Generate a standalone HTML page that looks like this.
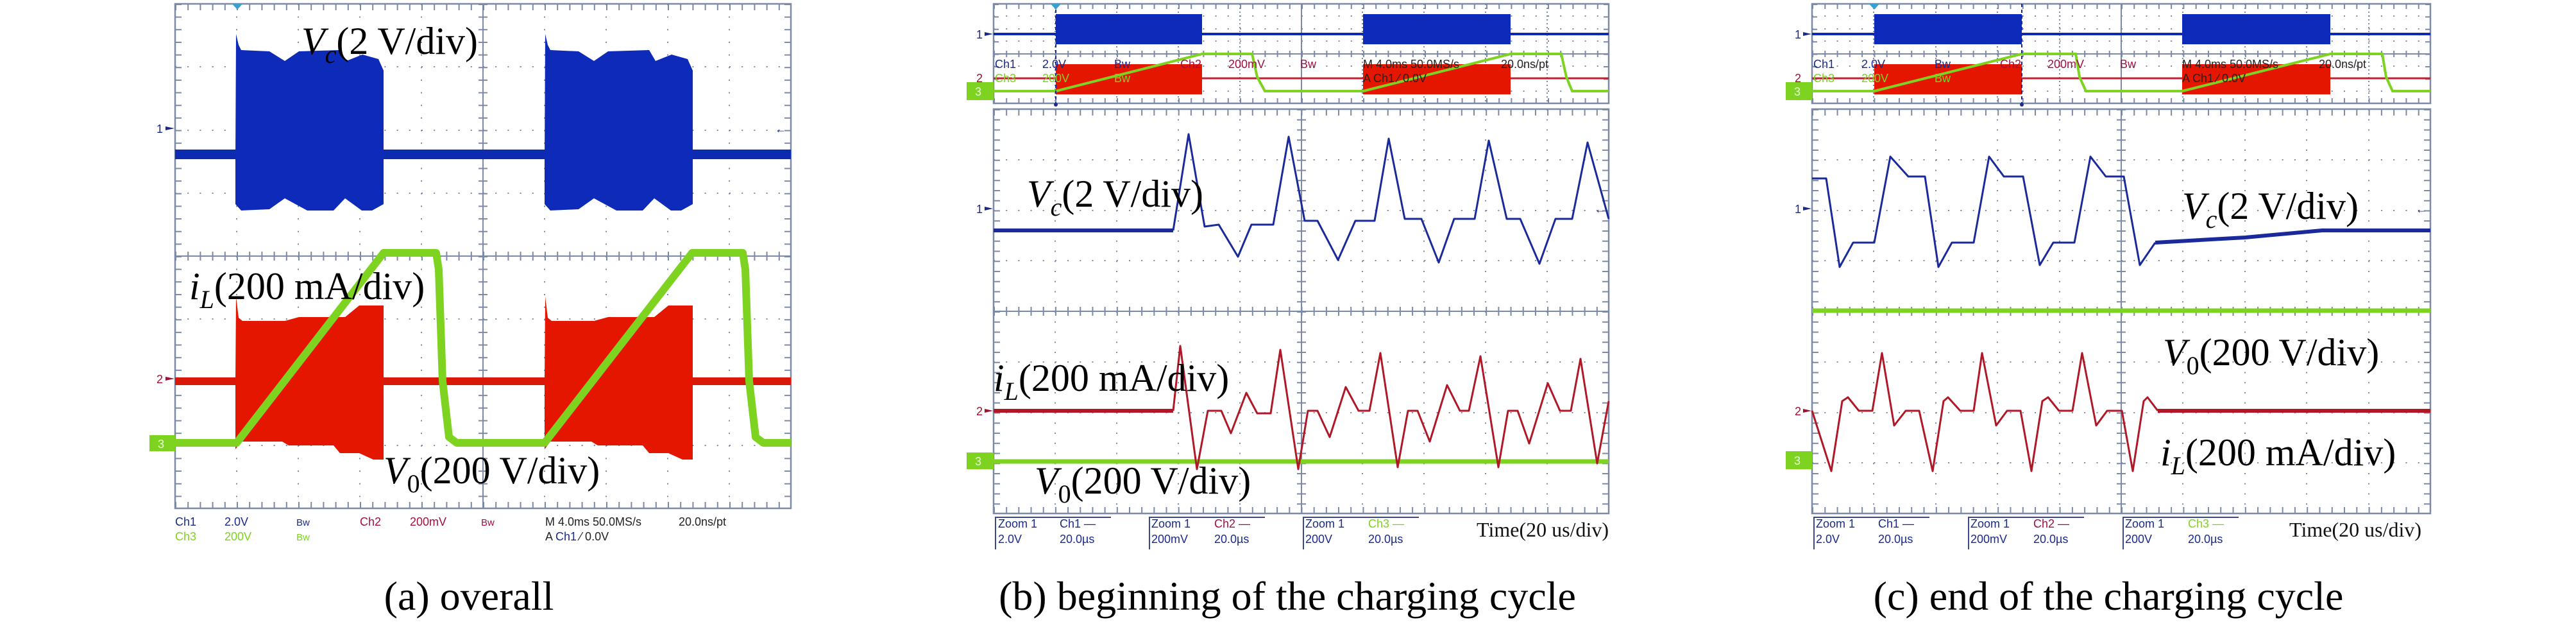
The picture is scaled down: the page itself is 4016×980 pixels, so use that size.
<!DOCTYPE html>
<html><head><meta charset="utf-8"><style>
html,body{margin:0;padding:0;background:#fff;}
svg{display:block;}
.sc{font-family:"Liberation Sans",sans-serif;font-size:18px;}
.lb{font-family:"Liberation Serif",serif;font-size:60px;fill:#000;}
.cap{font-family:"Liberation Serif",serif;font-size:64px;fill:#000;}
</style></head><body>
<svg width="4016" height="980" viewBox="0 0 4016 980" xmlns="http://www.w3.org/2000/svg">
<rect width="4016" height="980" fill="#fff"/>

<!-- ================= PANEL A ================= -->
<g stroke="#7d8aa6" fill="none">
  <g stroke-width="2" stroke-dasharray="2 17.65">
    <line x1="369" y1="6" x2="369" y2="792"/><line x1="465" y1="6" x2="465" y2="792"/>
    <line x1="561" y1="6" x2="561" y2="792"/><line x1="657" y1="6" x2="657" y2="792"/>
    <line x1="849" y1="6" x2="849" y2="792"/><line x1="945" y1="6" x2="945" y2="792"/>
    <line x1="1041" y1="6" x2="1041" y2="792"/><line x1="1137" y1="6" x2="1137" y2="792"/>
  </g>
  <g stroke-width="2" stroke-dasharray="2 17.2">
    <line x1="273" y1="104" x2="1233" y2="104"/><line x1="273" y1="203" x2="1233" y2="203"/>
    <line x1="273" y1="301" x2="1233" y2="301"/><line x1="273" y1="497" x2="1233" y2="497"/>
    <line x1="273" y1="596" x2="1233" y2="596"/><line x1="273" y1="694" x2="1233" y2="694"/>
  </g>
  <line x1="753" y1="6" x2="753" y2="792" stroke-width="2"/>
  <line x1="273" y1="399" x2="1233" y2="399" stroke-width="2"/>
  <line x1="753" y1="6" x2="753" y2="792" stroke-width="14" stroke-dasharray="2 17.65"/>
  <line x1="273" y1="399" x2="1233" y2="399" stroke-width="14" stroke-dasharray="2 17.2"/>
  <line x1="278" y1="6" x2="278" y2="792" stroke-width="10" stroke-dasharray="2 17.65"/>
  <line x1="1228" y1="6" x2="1228" y2="792" stroke-width="10" stroke-dasharray="2 17.65"/>
  <line x1="273" y1="11" x2="1233" y2="11" stroke-width="10" stroke-dasharray="2 17.2"/>
  <line x1="273" y1="787" x2="1233" y2="787" stroke-width="10" stroke-dasharray="2 17.2"/>
  <rect x="273" y="6" width="960" height="786" stroke-width="2.5"/>
</g>
<!-- blue -->
<rect x="273" y="233" width="960" height="15" fill="#0d2bb0"/>
<g fill="#0d2bb8">
<polygon points="367,250 368,53 372,70 376,78 420,80 444,95 466,80 530,78 540,95 565,85 590,92 598,110 598,250 598,318 580,328 564,328 538,309 520,328 479,328 444,309 420,326 376,328 367,318"/>
<polygon points="849,250 850,53 854,70 858,78 902,80 926,95 948,80 1012,78 1022,95 1047,85 1072,92 1080,110 1080,250 1080,318 1062,328 1046,328 1020,309 1002,328 961,328 926,309 902,326 858,328 849,318"/>
</g>
<!-- red -->
<rect x="273" y="588" width="960" height="12" fill="#d81808"/>
<g fill="#e41600">
<polygon points="367,595 368,462 372,495 378,500 444,500 466,494 538,494 560,476 598,476 598,716 582,716 560,706 530,706 520,694 450,694 440,688 376,688 367,700"/>
<polygon points="849,595 850,462 854,495 860,500 926,500 948,494 1020,494 1042,476 1080,476 1080,716 1064,716 1042,706 1012,706 1002,694 932,694 922,688 858,688 849,700"/>
</g>
<polyline points="273,690 369,690 598,394 680,394 684,420 690,594 700,681 712,690 849,690 1079,394 1158,394 1162,420 1168,594 1178,681 1190,690 1233,690" fill="none" stroke="#7ed321" stroke-width="12" stroke-linejoin="round"/>
<rect x="233" y="678" width="40" height="25" fill="#7ed321"/>
<text x="246" y="698" class="sc" fill="#e8ffd8">3</text>
<text x="244" y="207" class="sc" fill="#1a2a8a">1</text><polygon points="258,197 272,200 258,203" fill="#1a2a8a"/>
<text x="244" y="597" class="sc" fill="#a01030">2</text><polygon points="258,587 272,590 258,593" fill="#a01030"/>
<text x="1208" y="207" class="sc" fill="#1a2a8a" font-size="24">←</text>
<polygon points="362,6 378,6 370,15" fill="#3aa0d0"/>
<text class="lb" x="470" y="84"><tspan font-style="italic">V</tspan><tspan font-style="italic" font-size="40" dy="14">c</tspan><tspan dy="-14">(2 V/div)</tspan></text>
<text class="lb" x="295" y="466"><tspan font-style="italic">i</tspan><tspan font-style="italic" font-size="40" dy="14">L</tspan><tspan dy="-14">(200 mA/div)</tspan></text>
<text class="lb" x="598" y="753"><tspan font-style="italic">V</tspan><tspan font-size="40" dy="14">0</tspan><tspan dy="-14">(200 V/div)</tspan></text>
<g class="sc">
<text x="273" y="819" fill="#1a2a8a">Ch1</text><text x="350" y="819" fill="#1a2a8a">2.0V</text><text x="462" y="819" fill="#1a2a8a" font-size="15">Bw</text>
<text x="561" y="819" fill="#a01040">Ch2</text><text x="639" y="819" fill="#a01040">200mV</text><text x="750" y="819" fill="#a01040" font-size="15">Bw</text>
<text x="850" y="819" fill="#222">M 4.0ms 50.0MS/s</text><text x="1058" y="819" fill="#222">20.0ns/pt</text>
<text x="273" y="842" fill="#7ed321">Ch3</text><text x="350" y="842" fill="#7ed321">200V</text><text x="462" y="842" fill="#7ed321" font-size="15">Bw</text>
<text x="850" y="842" fill="#222">A <tspan fill="#1a2a8a">Ch1</tspan> ⁄ 0.0V</text>
</g>
<text class="cap" x="731" y="950" text-anchor="middle">(a) overall</text>

<!-- ================= PANEL B ================= -->
<!-- mini -->
<g stroke="#7d8aa6" fill="none">
  <g stroke-width="2" stroke-dasharray="2 4">
    <line x1="1645" y1="6" x2="1645" y2="161"/><line x1="1741" y1="6" x2="1741" y2="161"/><line x1="1837" y1="6" x2="1837" y2="161"/><line x1="1933" y1="6" x2="1933" y2="161"/>
    <line x1="2124" y1="6" x2="2124" y2="161"/><line x1="2220" y1="6" x2="2220" y2="161"/><line x1="2316" y1="6" x2="2316" y2="161"/><line x1="2412" y1="6" x2="2412" y2="161"/>
  </g>
  <g stroke-width="2" stroke-dasharray="2 17.2">
    <line x1="1549" y1="25" x2="2508" y2="25"/><line x1="1549" y1="45" x2="2508" y2="45"/><line x1="1549" y1="64" x2="2508" y2="64"/>
    <line x1="1549" y1="103" x2="2508" y2="103"/><line x1="1549" y1="122" x2="2508" y2="122"/><line x1="1549" y1="142" x2="2508" y2="142"/>
  </g>
  <line x1="2029" y1="6" x2="2029" y2="161" stroke-width="2"/>
  <line x1="1549" y1="84" x2="2508" y2="84" stroke-width="2"/>
  <line x1="1549" y1="84" x2="2508" y2="84" stroke-width="10" stroke-dasharray="2 17.2"/>
  <line x1="1553" y1="6" x2="1553" y2="161" stroke-width="8" stroke-dasharray="2 17.4"/>
  <line x1="2504" y1="6" x2="2504" y2="161" stroke-width="8" stroke-dasharray="2 17.4"/>
  <line x1="1549" y1="10" x2="2508" y2="10" stroke-width="8" stroke-dasharray="2 17.2"/>
  <line x1="1549" y1="157" x2="2508" y2="157" stroke-width="8" stroke-dasharray="2 17.2"/>
  <rect x="1549" y="6" width="959" height="155" stroke-width="2.5"/>
</g>
<line x1="1549" y1="53" x2="2508" y2="53" stroke="#0d2bb0" stroke-width="4"/>
<rect x="1646" y="22" width="228" height="47" fill="#0d2bb8"/><rect x="2125" y="22" width="230" height="47" fill="#0d2bb8"/>
<line x1="1549" y1="122" x2="2508" y2="122" stroke="#c02030" stroke-width="3"/>
<rect x="1646" y="100" width="228" height="47" fill="#e41600"/><rect x="2125" y="100" width="230" height="47" fill="#e41600"/>
<polyline points="1549,142 1646,142 1874,84 1952,84 1960,120 1972,142 2125,142 2355,84 2434,84 2442,120 2451,142 2508,142" fill="none" stroke="#7ed321" stroke-width="4"/>
<line x1="1646" y1="6" x2="1646" y2="165" stroke="#1a2a9a" stroke-width="2" stroke-dasharray="5 4"/>
<polygon points="1638,6 1654,6 1646,15" fill="#3aa0d0"/><circle cx="1646" cy="163" r="3" fill="#1a2a9a"/>
<g class="sc" font-size="17">
<text x="1551" y="106" fill="#1a2a8a">Ch1</text><text x="1625" y="106" fill="#1a2a8a">2.0V</text><text x="1737" y="106" fill="#1a2a8a">Bw</text>
<text x="1840" y="106" fill="#a01040">Ch2</text><text x="1915" y="106" fill="#a01040">200mV</text><text x="2027" y="106" fill="#a01040">Bw</text>
<text x="2125" y="106" fill="#222">M 4.0ms 50.0MS/s</text><text x="2340" y="106" fill="#222">20.0ns/pt</text>
<text x="1551" y="128" fill="#7ed321">Ch3</text><text x="1625" y="128" fill="#7ed321">200V</text><text x="1737" y="128" fill="#7ed321">Bw</text>
<text x="2125" y="128" fill="#222">A Ch1 ⁄ 0.0V</text>
</g>
<rect x="1507" y="128" width="42" height="28" fill="#7ed321"/><text x="1520" y="149" class="sc" fill="#e8ffd8">3</text>
<text x="1522" y="60" class="sc" fill="#1a2a8a">1</text><polygon points="1535,50 1548,53 1535,56" fill="#1a2a8a"/>
<text x="1522" y="128" class="sc" fill="#a01030">2</text>
<text x="2486" y="56" class="sc" fill="#1a2a8a" font-size="22">←</text>
<!-- main -->
<g stroke="#7d8aa6" fill="none">
  <g stroke-width="2" stroke-dasharray="2 13.75">
    <line x1="1645" y1="170" x2="1645" y2="800"/><line x1="1741" y1="170" x2="1741" y2="800"/><line x1="1837" y1="170" x2="1837" y2="800"/><line x1="1933" y1="170" x2="1933" y2="800"/>
    <line x1="2124" y1="170" x2="2124" y2="800"/><line x1="2220" y1="170" x2="2220" y2="800"/><line x1="2316" y1="170" x2="2316" y2="800"/><line x1="2412" y1="170" x2="2412" y2="800"/>
  </g>
  <g stroke-width="2" stroke-dasharray="2 17.18">
    <line x1="1549" y1="249" x2="2508" y2="249"/><line x1="1549" y1="328" x2="2508" y2="328"/><line x1="1549" y1="406" x2="2508" y2="406"/>
    <line x1="1549" y1="564" x2="2508" y2="564"/><line x1="1549" y1="643" x2="2508" y2="643"/><line x1="1549" y1="721" x2="2508" y2="721"/>
  </g>
  <line x1="2029" y1="170" x2="2029" y2="800" stroke-width="2"/>
  <line x1="1549" y1="485" x2="2508" y2="485" stroke-width="2"/>
  <line x1="2029" y1="170" x2="2029" y2="800" stroke-width="14" stroke-dasharray="2 13.75"/>
  <line x1="1549" y1="485" x2="2508" y2="485" stroke-width="14" stroke-dasharray="2 17.18"/>
  <line x1="1554" y1="170" x2="1554" y2="800" stroke-width="10" stroke-dasharray="2 13.75"/>
  <line x1="2503" y1="170" x2="2503" y2="800" stroke-width="10" stroke-dasharray="2 13.75"/>
  <line x1="1549" y1="175" x2="2508" y2="175" stroke-width="10" stroke-dasharray="2 17.18"/>
  <line x1="1549" y1="795" x2="2508" y2="795" stroke-width="10" stroke-dasharray="2 17.18"/>
  <rect x="1549" y="170" width="959" height="630" stroke-width="2.5"/>
</g>
<line x1="1549" y1="719" x2="2508" y2="719" stroke="#7ed321" stroke-width="7"/>
<line x1="1549" y1="359" x2="1829" y2="359" stroke="#1a2a9a" stroke-width="6"/>
<polyline points="1829,359 1853,209 1878,353 1900,350 1930,400 1951,350 1985,350 2009,213 2034,344 2054,344 2086,405 2113,344 2143,344 2165,216 2190,341 2216,341 2243,409 2267,341 2299,341 2321,219 2349,341 2370,341 2400,411 2425,341 2451,341 2475,222 2508,341" fill="none" stroke="#1a2a9a" stroke-width="3" stroke-linejoin="round"/>
<line x1="1549" y1="640" x2="1829" y2="640" stroke="#b01828" stroke-width="6"/>
<polyline points="1829,640 1840,539 1866,731 1883,640 1904,640 1919,675 1943,612 1960,644 1981,644 1996,545 2024,731 2039,640 2054,640 2073,681 2098,603 2118,640 2135,640 2152,550 2179,728 2195,640 2210,640 2229,688 2256,600 2276,640 2290,640 2308,555 2336,728 2351,640 2366,640 2384,691 2413,597 2432,640 2449,640 2464,559 2490,722 2508,625" fill="none" stroke="#b01828" stroke-width="3" stroke-linejoin="round"/>
<rect x="1507" y="705" width="42" height="26" fill="#7ed321"/><text x="1520" y="725" class="sc" fill="#e8ffd8">3</text>
<text x="1522" y="332" class="sc" fill="#1a2a8a">1</text><polygon points="1535,322 1548,325 1535,328" fill="#1a2a8a"/>
<text x="1522" y="647" class="sc" fill="#a01030">2</text><polygon points="1535,637 1548,640 1535,643" fill="#a01030"/>
<text x="2486" y="332" class="sc" fill="#1a2a8a" font-size="22">←</text>
<text class="lb" x="1601" y="322"><tspan font-style="italic">V</tspan><tspan font-style="italic" font-size="40" dy="14">c</tspan><tspan dy="-14">(2 V/div)</tspan></text>
<text class="lb" x="1549" y="609"><tspan font-style="italic">i</tspan><tspan font-style="italic" font-size="40" dy="14">L</tspan><tspan dy="-14">(200 mA/div)</tspan></text>
<text class="lb" x="1613" y="769"><tspan font-style="italic">V</tspan><tspan font-size="40" dy="14">0</tspan><tspan dy="-14">(200 V/div)</tspan></text>
<g stroke="#3a4a8a" stroke-width="2">
<polyline points="1552,856 1552,806 1732,806" fill="none"/><polyline points="1792,856 1792,806 1972,806" fill="none"/><polyline points="2032,856 2032,806 2212,806" fill="none"/>
</g>
<g class="sc">
<text x="1556" y="822" fill="#1a2a8a">Zoom 1</text><text x="1652" y="822" fill="#1a2a8a">Ch1 —</text>
<text x="1556" y="846" fill="#1a2a8a">2.0V</text><text x="1652" y="846" fill="#1a2a8a">20.0µs</text>
<text x="1795" y="822" fill="#1a2a8a">Zoom 1</text><text x="1893" y="822" fill="#a01040">Ch2 —</text>
<text x="1795" y="846" fill="#1a2a8a">200mV</text><text x="1893" y="846" fill="#1a2a8a">20.0µs</text>
<text x="2035" y="822" fill="#1a2a8a">Zoom 1</text><text x="2133" y="822" fill="#7ed321">Ch3 —</text>
<text x="2035" y="846" fill="#1a2a8a">200V</text><text x="2133" y="846" fill="#1a2a8a">20.0µs</text>
</g>
<text x="2508" y="836" text-anchor="end" font-family="Liberation Serif,serif" font-size="32" fill="#111">Time(20 us/div)</text>
<text class="cap" x="2007" y="950" text-anchor="middle">(b) beginning of the charging cycle</text>

<!-- ================= PANEL C ================= -->
<g stroke="#7d8aa6" fill="none">
  <g stroke-width="2" stroke-dasharray="2 4">
    <line x1="2921" y1="6" x2="2921" y2="161"/><line x1="3018" y1="6" x2="3018" y2="161"/><line x1="3114" y1="6" x2="3114" y2="161"/><line x1="3211" y1="6" x2="3211" y2="161"/>
    <line x1="3403" y1="6" x2="3403" y2="161"/><line x1="3500" y1="6" x2="3500" y2="161"/><line x1="3596" y1="6" x2="3596" y2="161"/><line x1="3693" y1="6" x2="3693" y2="161"/>
  </g>
  <g stroke-width="2" stroke-dasharray="2 17.28">
    <line x1="2825" y1="25" x2="3789" y2="25"/><line x1="2825" y1="45" x2="3789" y2="45"/><line x1="2825" y1="64" x2="3789" y2="64"/>
    <line x1="2825" y1="103" x2="3789" y2="103"/><line x1="2825" y1="122" x2="3789" y2="122"/><line x1="2825" y1="142" x2="3789" y2="142"/>
  </g>
  <line x1="3307" y1="6" x2="3307" y2="161" stroke-width="2"/>
  <line x1="2825" y1="84" x2="3789" y2="84" stroke-width="2"/>
  <line x1="2825" y1="84" x2="3789" y2="84" stroke-width="10" stroke-dasharray="2 17.28"/>
  <line x1="2829" y1="6" x2="2829" y2="161" stroke-width="8" stroke-dasharray="2 17.4"/>
  <line x1="3785" y1="6" x2="3785" y2="161" stroke-width="8" stroke-dasharray="2 17.4"/>
  <line x1="2825" y1="10" x2="3789" y2="10" stroke-width="8" stroke-dasharray="2 17.28"/>
  <line x1="2825" y1="157" x2="3789" y2="157" stroke-width="8" stroke-dasharray="2 17.28"/>
  <rect x="2825" y="6" width="964" height="155" stroke-width="2.5"/>
</g>
<line x1="2825" y1="53" x2="3789" y2="53" stroke="#0d2bb0" stroke-width="4"/>
<rect x="2922" y="22" width="230" height="47" fill="#0d2bb8"/><rect x="3402" y="22" width="231" height="47" fill="#0d2bb8"/>
<line x1="2825" y1="122" x2="3789" y2="122" stroke="#c02030" stroke-width="3"/>
<rect x="2922" y="100" width="230" height="47" fill="#e41600"/><rect x="3402" y="100" width="231" height="47" fill="#e41600"/>
<polyline points="2825,142 2922,142 3152,84 3236,84 3242,120 3252,142 3402,142 3633,84 3714,84 3720,120 3730,142 3789,142" fill="none" stroke="#7ed321" stroke-width="4"/>
<line x1="3152" y1="6" x2="3152" y2="165" stroke="#1a2a9a" stroke-width="2" stroke-dasharray="5 4"/>
<polygon points="2914,6 2930,6 2922,15" fill="#3aa0d0"/><circle cx="3152" cy="163" r="3" fill="#1a2a9a"/>
<g class="sc" font-size="17">
<text x="2827" y="106" fill="#1a2a8a">Ch1</text><text x="2902" y="106" fill="#1a2a8a">2.0V</text><text x="3016" y="106" fill="#1a2a8a">Bw</text>
<text x="3118" y="106" fill="#a01040">Ch2</text><text x="3192" y="106" fill="#a01040">200mV</text><text x="3305" y="106" fill="#a01040">Bw</text>
<text x="3402" y="106" fill="#222">M 4.0ms 50.0MS/s</text><text x="3615" y="106" fill="#222">20.0ns/pt</text>
<text x="2827" y="128" fill="#7ed321">Ch3</text><text x="2902" y="128" fill="#7ed321">200V</text><text x="3016" y="128" fill="#7ed321">Bw</text>
<text x="3402" y="128" fill="#222">A Ch1 ⁄ 0.0V</text>
</g>
<rect x="2784" y="128" width="41" height="28" fill="#7ed321"/><text x="2797" y="149" class="sc" fill="#e8ffd8">3</text>
<text x="2798" y="60" class="sc" fill="#1a2a8a">1</text><polygon points="2811,50 2824,53 2811,56" fill="#1a2a8a"/>
<text x="2798" y="128" class="sc" fill="#a01030">2</text>
<text x="3766" y="56" class="sc" fill="#1a2a8a" font-size="22">←</text>
<g stroke="#7d8aa6" fill="none">
  <g stroke-width="2" stroke-dasharray="2 13.75">
    <line x1="2921" y1="170" x2="2921" y2="800"/><line x1="3018" y1="170" x2="3018" y2="800"/><line x1="3114" y1="170" x2="3114" y2="800"/><line x1="3211" y1="170" x2="3211" y2="800"/>
    <line x1="3403" y1="170" x2="3403" y2="800"/><line x1="3500" y1="170" x2="3500" y2="800"/><line x1="3596" y1="170" x2="3596" y2="800"/><line x1="3693" y1="170" x2="3693" y2="800"/>
  </g>
  <g stroke-width="2" stroke-dasharray="2 17.28">
    <line x1="2825" y1="249" x2="3789" y2="249"/><line x1="2825" y1="328" x2="3789" y2="328"/><line x1="2825" y1="406" x2="3789" y2="406"/>
    <line x1="2825" y1="564" x2="3789" y2="564"/><line x1="2825" y1="643" x2="3789" y2="643"/><line x1="2825" y1="721" x2="3789" y2="721"/>
  </g>
  <line x1="3307" y1="170" x2="3307" y2="800" stroke-width="2"/>
  <line x1="2825" y1="485" x2="3789" y2="485" stroke-width="2"/>
  <line x1="3307" y1="170" x2="3307" y2="800" stroke-width="14" stroke-dasharray="2 13.75"/>
  <line x1="2825" y1="485" x2="3789" y2="485" stroke-width="14" stroke-dasharray="2 17.28"/>
  <line x1="2830" y1="170" x2="2830" y2="800" stroke-width="10" stroke-dasharray="2 13.75"/>
  <line x1="3784" y1="170" x2="3784" y2="800" stroke-width="10" stroke-dasharray="2 13.75"/>
  <line x1="2825" y1="175" x2="3789" y2="175" stroke-width="10" stroke-dasharray="2 17.28"/>
  <line x1="2825" y1="795" x2="3789" y2="795" stroke-width="10" stroke-dasharray="2 17.28"/>
  <rect x="2825" y="170" width="964" height="630" stroke-width="2.5"/>
</g>
<line x1="2825" y1="484" x2="3789" y2="484" stroke="#7ed321" stroke-width="7"/>
<polyline points="2825,278 2847,278 2868,416 2889,378 2922,378 2947,244 2975,275 3001,275 3022,416 3043,378 3077,378 3101,244 3124,275 3154,275 3180,413 3201,378 3234,378 3259,244 3283,275 3311,275 3336,413 3360,378" fill="none" stroke="#1a2a9a" stroke-width="3" stroke-linejoin="round"/>
<polyline points="3360,378 3500,370 3620,359 3789,359" fill="none" stroke="#1a2a9a" stroke-width="6"/>
<polyline points="2825,640 2855,734 2872,625 2881,619 2898,640 2919,640 2934,550 2953,663 2971,640 2992,640 3013,734 3030,625 3037,619 3056,640 3077,640 3090,550 3112,663 3129,640 3150,640 3167,734 3184,625 3193,619 3210,640 3231,640 3246,550 3268,663 3285,640 3308,640 3325,734 3342,625 3348,619 3364,640" fill="none" stroke="#b01828" stroke-width="3" stroke-linejoin="round"/>
<line x1="3364" y1="640" x2="3789" y2="640" stroke="#b01828" stroke-width="6"/>
<rect x="2784" y="703" width="41" height="28" fill="#7ed321"/><text x="2797" y="724" class="sc" fill="#e8ffd8">3</text>
<text x="2798" y="332" class="sc" fill="#1a2a8a">1</text><polygon points="2811,322 2824,325 2811,328" fill="#1a2a8a"/>
<text x="2798" y="647" class="sc" fill="#a01030">2</text><polygon points="2811,637 2824,640 2811,643" fill="#a01030"/>
<text x="3766" y="332" class="sc" fill="#1a2a8a" font-size="22">←</text>
<text class="lb" x="3402" y="341"><tspan font-style="italic">V</tspan><tspan font-style="italic" font-size="40" dy="14">c</tspan><tspan dy="-14">(2 V/div)</tspan></text>
<text class="lb" x="3372" y="569"><tspan font-style="italic">V</tspan><tspan font-size="40" dy="14">0</tspan><tspan dy="-14">(200 V/div)</tspan></text>
<text class="lb" x="3368" y="725"><tspan font-style="italic">i</tspan><tspan font-style="italic" font-size="40" dy="14">L</tspan><tspan dy="-14">(200 mA/div)</tspan></text>
<g stroke="#3a4a8a" stroke-width="2">
<polyline points="2828,856 2828,806 3008,806" fill="none"/><polyline points="3069,856 3069,806 3249,806" fill="none"/><polyline points="3310,856 3310,806 3490,806" fill="none"/>
</g>
<g class="sc">
<text x="2831" y="822" fill="#1a2a8a">Zoom 1</text><text x="2928" y="822" fill="#1a2a8a">Ch1 —</text>
<text x="2831" y="846" fill="#1a2a8a">2.0V</text><text x="2928" y="846" fill="#1a2a8a">20.0µs</text>
<text x="3072" y="822" fill="#1a2a8a">Zoom 1</text><text x="3170" y="822" fill="#a01040">Ch2 —</text>
<text x="3072" y="846" fill="#1a2a8a">200mV</text><text x="3170" y="846" fill="#1a2a8a">20.0µs</text>
<text x="3313" y="822" fill="#1a2a8a">Zoom 1</text><text x="3411" y="822" fill="#7ed321">Ch3 —</text>
<text x="3313" y="846" fill="#1a2a8a">200V</text><text x="3411" y="846" fill="#1a2a8a">20.0µs</text>
</g>
<text x="3775" y="836" text-anchor="end" font-family="Liberation Serif,serif" font-size="32" fill="#111">Time(20 us/div)</text>
<text class="cap" x="3287" y="950" text-anchor="middle">(c) end of the charging cycle</text>
</svg>
</body></html>
